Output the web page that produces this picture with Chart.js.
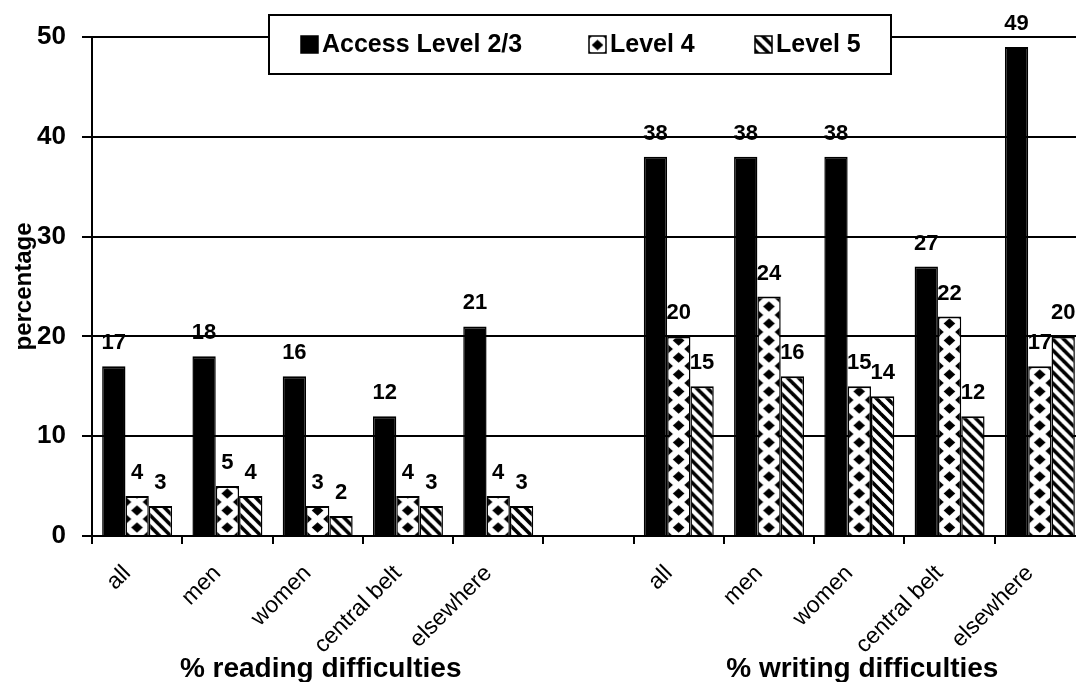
<!DOCTYPE html>
<html><head><meta charset="utf-8">
<script src="https://cdn.jsdelivr.net/npm/chart.js@4/dist/chart.umd.min.js"></script>
<style>html,body{margin:0;padding:0;background:#fff;overflow:hidden;width:1076px;height:682px}#wrap{width:1090px;height:682px}</style>
</head><body><div id="wrap"><canvas id="c" width="1090" height="682"></canvas></div>
<script>
// ---- data ----
const categories = ['all','men','women','central belt','elsewhere','','all','men','women','central belt','elsewhere'];
const seriesNames = ['Access Level 2/3','Level 4','Level 5'];
const level23 = [17,18,16,12,21,null,38,38,38,27,49];
const level4  = [4,5,3,4,4,null,20,24,15,22,17];
const level5  = [3,4,2,3,3,null,15,16,14,12,20];
const yTicks = [0,10,20,30,40,50];
const groupTitles = ['% reading difficulties','% writing difficulties'];
const groupSpans = [[0,4],[6,10]];
const yTitle = 'percentage';

const FONT = '"Liberation Sans", Arial, Helvetica, sans-serif';
Chart.defaults.font.family = FONT;
Chart.defaults.color = '#000';

// ---- pattern tiles ----
function makeDiamondTile(){
  const w=23,h=17,c=document.createElement('canvas');c.width=w;c.height=h;
  const g=c.getContext('2d');g.fillStyle='#fff';g.fillRect(0,0,w,h);g.fillStyle='#000';
  const pts=[[0,0],[w,0],[0,h],[w,h],[w/2,h/2]];
  const rx=5.8,ry=5.2;
  pts.forEach(([x,y])=>{g.beginPath();g.moveTo(x,y-ry);g.lineTo(x+rx,y);g.lineTo(x,y+ry);g.lineTo(x-rx,y);g.closePath();g.fill();});
  return c;
}
function makeStripeTile(){
  const s=11,c=document.createElement('canvas');c.width=s;c.height=s;
  const g=c.getContext('2d');g.fillStyle='#fff';g.fillRect(0,0,s,s);
  g.strokeStyle='#000';g.lineWidth=3.6;
  [-1,0,1].forEach(k=>{g.beginPath();g.moveTo(-s,-s+k*s);g.lineTo(2*s,2*s+k*s);g.stroke();});
  return c;
}
const diamondTile=makeDiamondTile(), stripeTile=makeStripeTile();
const CAT_PCT=0.775;
function patternFor(tile, dsIndex){
  return (c)=>{
    const ctx=c.chart.ctx;
    const p=ctx.createPattern(tile,'repeat');
    const xs=c.chart.scales && c.chart.scales.x, ca=c.chart.chartArea;
    if(xs && ca && c.dataIndex!==undefined && typeof p.setTransform==='function'){
      const cw=xs.getPixelForValue(1)-xs.getPixelForValue(0);
      const bw=cw*CAT_PCT/3;
      const left=xs.getPixelForValue(c.dataIndex)-1.5*bw+dsIndex*bw;
      try{p.setTransform(new DOMMatrix().translate(left, ca.bottom));}catch(e){}
    }
    return p;
  };
}
const bw={top:2,left:1.5,right:1.5,bottom:0};

// ---- plugins ----
const valueLabels={id:'valueLabels',afterDatasetsDraw(chart){
  const ctx=chart.ctx;ctx.save();ctx.font='bold 22px '+FONT;ctx.fillStyle='#000';
  ctx.textAlign='center';ctx.textBaseline='middle';
  chart.data.datasets.forEach((ds,i)=>{
    chart.getDatasetMeta(i).data.forEach((bar,j)=>{
      const v=ds.data[j]; if(v==null) return;
      ctx.fillText(String(v), bar.x, bar.y-23);
    });
  });
  ctx.restore();
}};
const groupTitlePlugin={id:'groupTitles',afterDraw(chart){
  const ctx=chart.ctx, xs=chart.scales.x;ctx.save();
  ctx.font='bold 28px '+FONT;ctx.fillStyle='#000';ctx.textAlign='center';ctx.textBaseline='alphabetic';
  groupTitles.forEach((t,i)=>{
    const [a,b]=groupSpans[i];
    const x=(xs.getPixelForValue(a)+xs.getPixelForValue(b))/2;
    ctx.fillText(t,x+3,677);
  });
  ctx.restore();
}};
const boxLegend={id:'boxLegend',afterDraw(chart){
  const ctx=chart.ctx;ctx.save();
  const bx=269,by=15,bwid=622,bh=59;
  ctx.fillStyle='#fff';ctx.fillRect(bx,by,bwid,bh);
  ctx.strokeStyle='#000';ctx.lineWidth=2;ctx.strokeRect(bx,by,bwid,bh);
  const iconX=[301,589,755], cy=44.5, sz=17;
  ctx.font='bold 25px '+FONT;ctx.textBaseline='middle';ctx.textAlign='left';
  chart.data.datasets.forEach((ds,i)=>{
    const x=iconX[i];
    let fill='#000';
    if(i===1) fill=ctx.createPattern(diamondTile,'repeat');
    if(i===2) fill=ctx.createPattern(stripeTile,'repeat');
    if(typeof fill!=='string'){try{fill.setTransform(new DOMMatrix().translate(x-3,cy-8));}catch(e){}}
    ctx.fillStyle=fill;ctx.fillRect(x,cy-sz/2,sz,sz);
    ctx.strokeStyle='#000';ctx.lineWidth=1.5;ctx.strokeRect(x,cy-sz/2,sz,sz);
    ctx.fillStyle='#000';ctx.fillText(ds.label,x+sz+4,cy+1);
  });
  ctx.restore();
}};

new Chart(document.getElementById('c'),{
  type:'bar',
  data:{labels:categories,datasets:[
    {label:seriesNames[0],data:level23,backgroundColor:'#000',borderColor:'#000',borderWidth:bw},
    {label:seriesNames[1],data:level4,backgroundColor:patternFor(diamondTile,1),borderColor:'#000',borderWidth:bw},
    {label:seriesNames[2],data:level5,backgroundColor:patternFor(stripeTile,2),borderColor:'#000',borderWidth:bw}
  ]},
  options:{
    responsive:false,animation:false,devicePixelRatio:1,
    layout:{padding:{top:37,right:5,left:0,bottom:0}},
    plugins:{legend:{display:false},tooltip:{enabled:false}},
    datasets:{bar:{barPercentage:1,categoryPercentage:CAT_PCT}},
    scales:{
      x:{offset:true,
        grid:{display:true,drawOnChartArea:false,drawTicks:true,tickLength:8,color:'#000',lineWidth:2,offset:true},
        border:{color:'#000',width:2},
        ticks:{autoSkip:false,maxRotation:45,minRotation:45,padding:16,labelOffset:-10,font:{size:23},color:'#000'},
        afterFit(s){s.height=146;}
      },
      y:{min:0,max:50,
        afterBuildTicks(s){s.ticks=yTicks.map(v=>({value:v}));},
        grid:{color:'#000',lineWidth:2,tickLength:10,drawTicks:true},
        border:{color:'#000',width:2},
        ticks:{padding:16,font:{size:26,weight:'bold'},color:'#000'},
        title:{display:true,text:yTitle,font:{size:24,weight:'bold'},color:'#000',padding:{top:10,bottom:0}},
        afterFit(s){s.width=92;}
      }
    }
  },
  plugins:[valueLabels,groupTitlePlugin,boxLegend]
});
</script></body></html>
